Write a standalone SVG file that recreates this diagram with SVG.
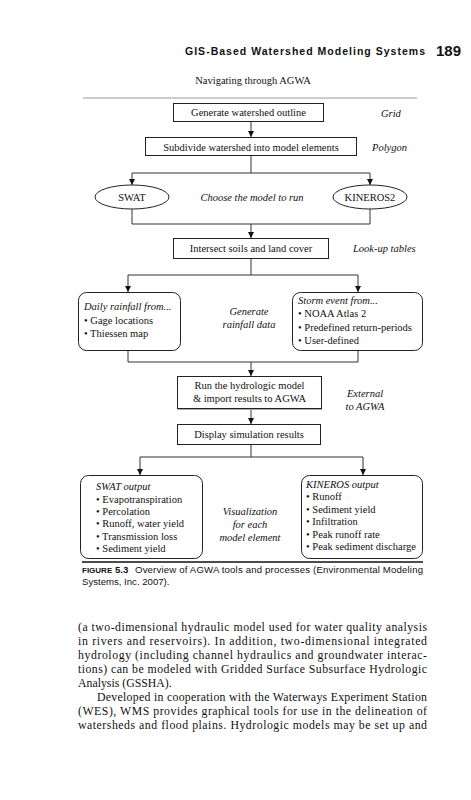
<svg xmlns="http://www.w3.org/2000/svg" width="471" height="800" viewBox="0 0 471 800">
<defs>
<marker id="ah" viewBox="0 0 6 6" refX="6" refY="3" markerWidth="6" markerHeight="6" markerUnits="userSpaceOnUse" orient="auto">
<path d="M0,0 L6,3 L0,6 Z" fill="#111"/>
</marker>
<style>
.box{fill:#fff;stroke:#222;stroke-width:1}
.t{font-family:"Liberation Serif","Times New Roman",serif;font-size:10.5px;fill:#111}
.c{text-anchor:middle}
.i{font-style:italic}
.ln{fill:none;stroke:#333;stroke-width:1}
.body{font-family:"Liberation Serif","Times New Roman",serif;font-size:11.8px;fill:#111}
.cap{font-family:"Liberation Sans",Arial,sans-serif;font-size:9.6px;fill:#111}
</style>
</defs>
<rect width="471" height="800" fill="#fff"/>

<g id="header">
<text x="185" y="55" font-family="Liberation Sans,Arial,sans-serif" font-weight="bold" font-size="10.5" textLength="240" lengthAdjust="spacing" fill="#111">GIS-Based Watershed Modeling Systems</text>
<text x="436" y="56" font-family="Liberation Sans,Arial,sans-serif" font-weight="bold" font-size="15" fill="#111">189</text>
</g>

<g id="title">
<text class="t c" x="253" y="84">Navigating through AGWA</text>
<line x1="83" y1="98" x2="417" y2="98" stroke="#999" stroke-width="1.2"/>
</g>

<g id="connectors">
<path class="ln" d="M251,121 V137" marker-end="url(#ah)"/>
<path class="ln" d="M251,156 V173 H132 V185" marker-end="url(#ah)"/>
<path class="ln" d="M251,173 H370 V185" marker-end="url(#ah)"/>
<path class="ln" d="M132,209 V224 H370 V209"/>
<path class="ln" d="M251,224 V238" marker-end="url(#ah)"/>
<path class="ln" d="M251,258 V275 H128 V292" marker-end="url(#ah)"/>
<path class="ln" d="M251,275 H358 V292" marker-end="url(#ah)"/>
<path class="ln" d="M128,350 V362 H358 V350"/>
<path class="ln" d="M251,362 V376" marker-end="url(#ah)"/>
<path class="ln" d="M251,409 V424" marker-end="url(#ah)"/>
<path class="ln" d="M251,444 V457 H140 V475" marker-end="url(#ah)"/>
<path class="ln" d="M251,457 H363 V475" marker-end="url(#ah)"/>
</g>

<g id="generate">
<rect class="box" x="173.5" y="103.5" width="150" height="18"/>
<text class="t c" x="248.5" y="116">Generate watershed outline</text>
</g>
<text class="t i" x="381" y="117">Grid</text>

<g id="subdivide">
<rect class="box" x="145.5" y="137.5" width="211" height="18"/>
<text class="t c" x="251" y="150.5">Subdivide watershed into model elements</text>
</g>
<text class="t i" x="372" y="151">Polygon</text>

<g id="swat">
<ellipse class="box" cx="132" cy="197" rx="37" ry="12"/>
<text class="t c" x="132" y="201">SWAT</text>
</g>
<text class="t i c" x="252" y="201">Choose the model to run</text>
<g id="kineros2">
<ellipse class="box" cx="370" cy="197" rx="37" ry="12"/>
<text class="t c" x="370" y="201">KINEROS2</text>
</g>

<g id="intersect">
<rect class="box" x="173.5" y="238.5" width="155" height="20"/>
<text class="t c" x="251" y="252">Intersect soils and land cover</text>
</g>
<text class="t i" x="353" y="252">Look-up tables</text>

<g id="daily">
<rect class="box" x="78.5" y="292.5" width="102" height="58" rx="8"/>
<text class="t i" x="84" y="310">Daily rainfall from...</text>
<text class="t" x="84" y="323.5">• Gage locations</text>
<text class="t" x="84" y="337">• Thiessen map</text>
</g>
<text class="t i c" x="249" y="315">Generate</text>
<text class="t i c" x="249" y="327.5">rainfall data</text>
<g id="storm">
<rect class="box" x="292.5" y="292.5" width="130" height="58" rx="8"/>
<text class="t i" x="298" y="303.5">Storm event from...</text>
<text class="t" x="298" y="317">• NOAA Atlas 2</text>
<text class="t" x="298" y="330.5">• Predefined return-periods</text>
<text class="t" x="298" y="344">• User-defined</text>
</g>

<g id="run">
<rect class="box" x="177.5" y="376.5" width="144" height="32"/>
<line x1="178" y1="409.5" x2="322" y2="409.5" stroke="#aaa" stroke-width="1"/>
<text class="t c" x="249.5" y="389">Run the hydrologic model</text>
<text class="t c" x="249.5" y="401.5">&amp; import results to AGWA</text>
</g>
<text class="t i c" x="365" y="397">External</text>
<text class="t i c" x="365" y="410">to AGWA</text>

<g id="display">
<rect class="box" x="177.5" y="424.5" width="143" height="20"/>
<text class="t c" x="249" y="438">Display simulation results</text>
</g>

<g id="swatout">
<rect class="box" x="80.5" y="475.5" width="122" height="83" rx="8"/>
<text class="t i" x="96" y="490">SWAT output</text>
<text class="t" x="96" y="502.5">• Evapotranspiration</text>
<text class="t" x="96" y="514.5">• Percolation</text>
<text class="t" x="96" y="527">• Runoff, water yield</text>
<text class="t" x="96" y="539.5">• Transmission loss</text>
<text class="t" x="96" y="552">• Sediment yield</text>
</g>
<text class="t i c" x="250" y="515">Visualization</text>
<text class="t i c" x="250" y="528">for each</text>
<text class="t i c" x="250" y="540.5">model element</text>
<g id="kinerosout">
<rect class="box" x="301.5" y="475.5" width="121" height="83" rx="8"/>
<text class="t i" x="306" y="487.5">KINEROS output</text>
<text class="t" x="306" y="500">• Runoff</text>
<text class="t" x="306" y="512.5">• Sediment yield</text>
<text class="t" x="306" y="525">• Infiltration</text>
<text class="t" x="306" y="537.5">• Peak runoff rate</text>
<text class="t" x="306" y="550">• Peak sediment discharge</text>
</g>

<g id="caption">
<line x1="82" y1="562" x2="423" y2="562" stroke="#111" stroke-width="1.5"/>
<text class="cap" x="82" y="572.5"><tspan font-weight="bold" font-size="8">FIGURE</tspan><tspan font-weight="bold"> 5.3</tspan></text>
<text class="cap" x="135" y="572.5" textLength="288" lengthAdjust="spacing">Overview of AGWA tools and processes (Environmental Modeling</text>
<text class="cap" x="82" y="584.5">Systems, Inc. 2007).</text>
</g>

<g id="bodytext">
<text class="body" x="78" y="631" textLength="349" lengthAdjust="spacing">(a two-dimensional hydraulic model used for water quality analysis</text>
<text class="body" x="78" y="645" textLength="349" lengthAdjust="spacing">in rivers and reservoirs). In addition, two-dimensional integrated</text>
<text class="body" x="78" y="659" textLength="349" lengthAdjust="spacing">hydrology (including channel hydraulics and groundwater interac-</text>
<text class="body" x="78" y="673" textLength="349" lengthAdjust="spacing">tions) can be modeled with Gridded Surface Subsurface Hydrologic</text>
<text class="body" x="78" y="687">Analysis (GSSHA).</text>
<text class="body" x="97" y="701" textLength="330" lengthAdjust="spacing">Developed in cooperation with the Waterways Experiment Station</text>
<text class="body" x="78" y="715" textLength="349" lengthAdjust="spacing">(WES), WMS provides graphical tools for use in the delineation of</text>
<text class="body" x="78" y="729" textLength="349" lengthAdjust="spacing">watersheds and flood plains. Hydrologic models may be set up and</text>
</g>
</svg>
